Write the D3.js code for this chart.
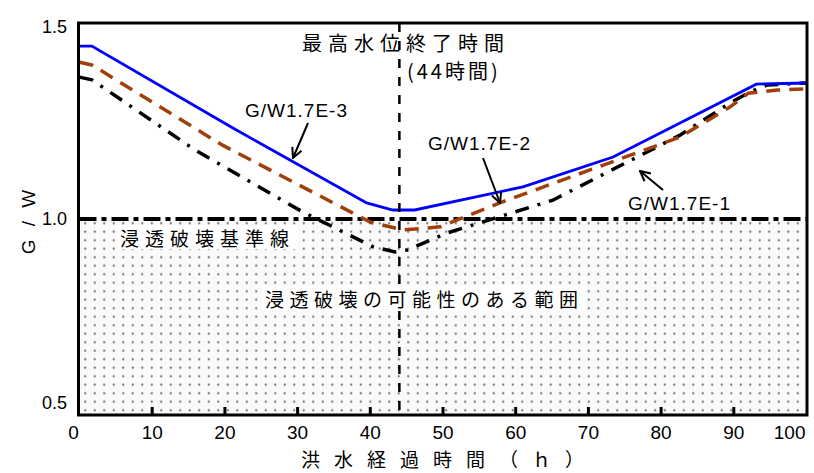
<!DOCTYPE html>
<html>
<head>
<meta charset="utf-8">
<script src="https://cdn.jsdelivr.net/npm/d3@7"></script>
<style>
  body { margin: 0; background: #fff; }
  svg { display: block; }
</style>
</head>
<body>
<svg id="chart" width="814" height="473"></svg>
<script>
// hours / G/W values
const hoursE3 = [0, 1.7, 21.1, 39.5, 43.1, 46.1, 61.0, 73.4, 82.6, 93.1, 100];
const gwE3    = [1.441, 1.441, 1.232, 1.041, 1.023, 1.023, 1.082, 1.158, 1.245, 1.344, 1.347];

const hoursE2 = [0, 1.7, 19.6, 40.0, 44.5, 49.6, 57.8, 82.6, 89.5, 92.0, 96.0, 100];
const gwE2    = [1.400, 1.393, 1.189, 0.992, 0.972, 0.980, 1.041, 1.209, 1.286, 1.321, 1.329, 1.332];

const hoursE1 = [0, 1.7, 15.9, 30.7, 40.4, 43.4, 45.1, 50.5, 65.1, 82.6, 89.5, 92.2, 94.6, 100];
const gwE1    = [1.362, 1.355, 1.176, 1.018, 0.929, 0.916, 0.921, 0.964, 1.048, 1.214, 1.296, 1.324, 1.342, 1.347];

const xTicks = [0, 10, 20, 30, 40, 50, 60, 70, 80, 90, 100];
const yTicks = [0.5, 1.0, 1.5];
const peakEnd = 44;      // 最高水位終了時間
const criterion = 1.0;   // 浸透破壊基準線

const svg = d3.select('#chart');
const plotLeft = 79.5, plotRight = 806.5, plotTop = 23, plotBottom = 415;

const x = d3.scaleLinear().domain([0, 100]).range([plotLeft, plotRight]);
const y = d3.scaleLinear().domain([0.5, 1.5]).range([plotBottom, plotTop]);

const latin = "'Liberation Sans', Arial, sans-serif";
const jp = "'Noto Sans CJK JP', sans-serif";

// dotted fill
const defs = svg.append('defs');
const pat = defs.append('pattern')
    .attr('id', 'dots')
    .attr('patternUnits', 'userSpaceOnUse')
    .attr('x', plotLeft + 1)
    .attr('y', y(criterion))
    .attr('width', 9.5)
    .attr('height', 8.5);
pat.append('rect').attr('width', 9.5).attr('height', 8.5).attr('fill', '#fafafa');
pat.append('circle').attr('cx', 4.75).attr('cy', 4.25).attr('r', 1.1).attr('fill', '#6a6a6a');

defs.append('marker')
    .attr('id', 'arrow')
    .attr('viewBox', '0 0 12 12')
    .attr('refX', 11).attr('refY', 6)
    .attr('markerWidth', 12).attr('markerHeight', 12)
    .attr('markerUnits', 'userSpaceOnUse')
    .attr('orient', 'auto')
    .append('path')
    .attr('d', 'M1,1 L11,6 L1,11')
    .attr('fill', 'none')
    .attr('stroke', '#000')
    .attr('stroke-width', 2);

svg.append('rect')
    .attr('x', plotLeft)
    .attr('y', y(criterion))
    .attr('width', plotRight - plotLeft)
    .attr('height', plotBottom - y(criterion))
    .attr('fill', 'url(#dots)');

// criterion line
svg.append('line')
    .attr('x1', plotLeft).attr('x2', plotRight)
    .attr('y1', y(criterion)).attr('y2', y(criterion))
    .attr('stroke', '#000')
    .attr('stroke-width', 4)
    .attr('stroke-dasharray', '17,5,5,5');

// curves
const line = d3.line()
    .x(d => x(d[0]))
    .y(d => y(d[1]));

const series = [
    { hours: hoursE1, gw: gwE1, color: '#000', width: 3.5, dash: '14,9,3,9' },
    { hours: hoursE2, gw: gwE2, color: '#a0400a', width: 3.5, dash: '14,9' },
    { hours: hoursE3, gw: gwE3, color: '#0000ff', width: 2.8, dash: null }
];

series.forEach(function (s) {
    svg.append('path')
        .datum(d3.zip(s.hours, s.gw))
        .attr('d', line)
        .attr('fill', 'none')
        .attr('stroke', s.color)
        .attr('stroke-width', s.width)
        .attr('stroke-dasharray', s.dash);
});

// peak end vertical line
svg.append('line')
    .attr('x1', x(peakEnd)).attr('x2', x(peakEnd))
    .attr('y1', plotTop).attr('y2', plotBottom)
    .attr('stroke', '#000')
    .attr('stroke-width', 2.5)
    .attr('stroke-dasharray', '9,9');

// white boxes behind the labels in the dotted area
svg.append('rect').attr('x', 117).attr('y', 225).attr('width', 181).attr('height', 24).attr('fill', '#fff');
svg.append('rect').attr('x', 262).attr('y', 286).attr('width', 324).attr('height', 25).attr('fill', '#fff');

// frame
svg.append('rect')
    .attr('x', plotLeft - 1).attr('y', plotTop)
    .attr('width', plotRight - plotLeft + 1.5).attr('height', plotBottom - plotTop)
    .attr('fill', 'none')
    .attr('stroke', '#000')
    .attr('stroke-width', 3);

// x ticks (inward)
svg.selectAll('.xtick')
    .data(xTicks.slice(1, -1))
    .enter().append('line')
    .attr('class', 'xtick')
    .attr('x1', d => x(d)).attr('x2', d => x(d))
    .attr('y1', plotBottom).attr('y2', plotBottom - 8)
    .attr('stroke', '#000')
    .attr('stroke-width', 3);

svg.selectAll('.xlab')
    .data(xTicks)
    .enter().append('text')
    .attr('class', 'xlab')
    .attr('x', function (d) {
        if (d === 0) return x(d) - 6;
        if (d === 100) return x(d) - 1;
        return x(d);
    })
    .attr('y', 432)
    .attr('dominant-baseline', 'central')
    .attr('text-anchor', d => d === 100 ? 'end' : 'middle')
    .style('font-family', latin)
    .style('font-size', '19px')
    .text(d => d);

svg.selectAll('.ylab')
    .data(yTicks)
    .enter().append('text')
    .attr('class', 'ylab')
    .attr('x', 67)
    .attr('y', function (d) {
        if (d === 1.5) return y(d) + 4;
        if (d === 0.5) return y(d) - 12;
        return y(d);
    })
    .attr('dominant-baseline', 'central')
    .attr('text-anchor', 'end')
    .style('font-family', latin)
    .style('font-size', '18px')
    .text(d => d.toFixed(1));

// axis titles
svg.append('text')
    .attr('x', 301)
    .attr('y', 458)
    .attr('dominant-baseline', 'central')
    .style('font-family', jp)
    .style('font-size', '19px')
    .style('letter-spacing', '14px')
    .text('洪水経過時間（ｈ）');

svg.append('text')
    .attr('transform', 'translate(28,220) rotate(-90)')
    .attr('text-anchor', 'middle')
    .attr('dominant-baseline', 'central')
    .style('font-family', latin)
    .style('font-size', '19px')
    .style('letter-spacing', '4px')
    .text('G / W');

// annotations
function label(txt, px, py, size, spacing, font) {
    svg.append('text')
        .attr('x', px)
        .attr('y', py)
        .attr('dominant-baseline', 'central')
        .style('font-family', font)
        .style('font-size', size + 'px')
        .style('letter-spacing', spacing + 'px')
        .text(txt);
}

label('最高水位終了時間', 302, 42, 20, 6, jp);
label('(44時間)', 407, 70, 20, 3, jp);
label('浸透破壊基準線', 120, 237, 19, 6, jp);
label('浸透破壊の可能性のある範囲', 265, 298, 19, 5.5, jp);

label('G/W1.7E-3', 245, 110, 19, 1, latin);
label('G/W1.7E-2', 428, 143, 19, 1, latin);
label('G/W1.7E-1', 628, 203, 19, 1, latin);

const arrows = [
    [308, 123, 293, 158],
    [483, 158, 500, 203],
    [663, 190, 640, 171]
];
svg.selectAll('.arrow')
    .data(arrows)
    .enter().append('line')
    .attr('class', 'arrow')
    .attr('x1', d => d[0]).attr('y1', d => d[1])
    .attr('x2', d => d[2]).attr('y2', d => d[3])
    .attr('stroke', '#000')
    .attr('stroke-width', 2)
    .attr('marker-end', 'url(#arrow)');
</script>
</body>
</html>
